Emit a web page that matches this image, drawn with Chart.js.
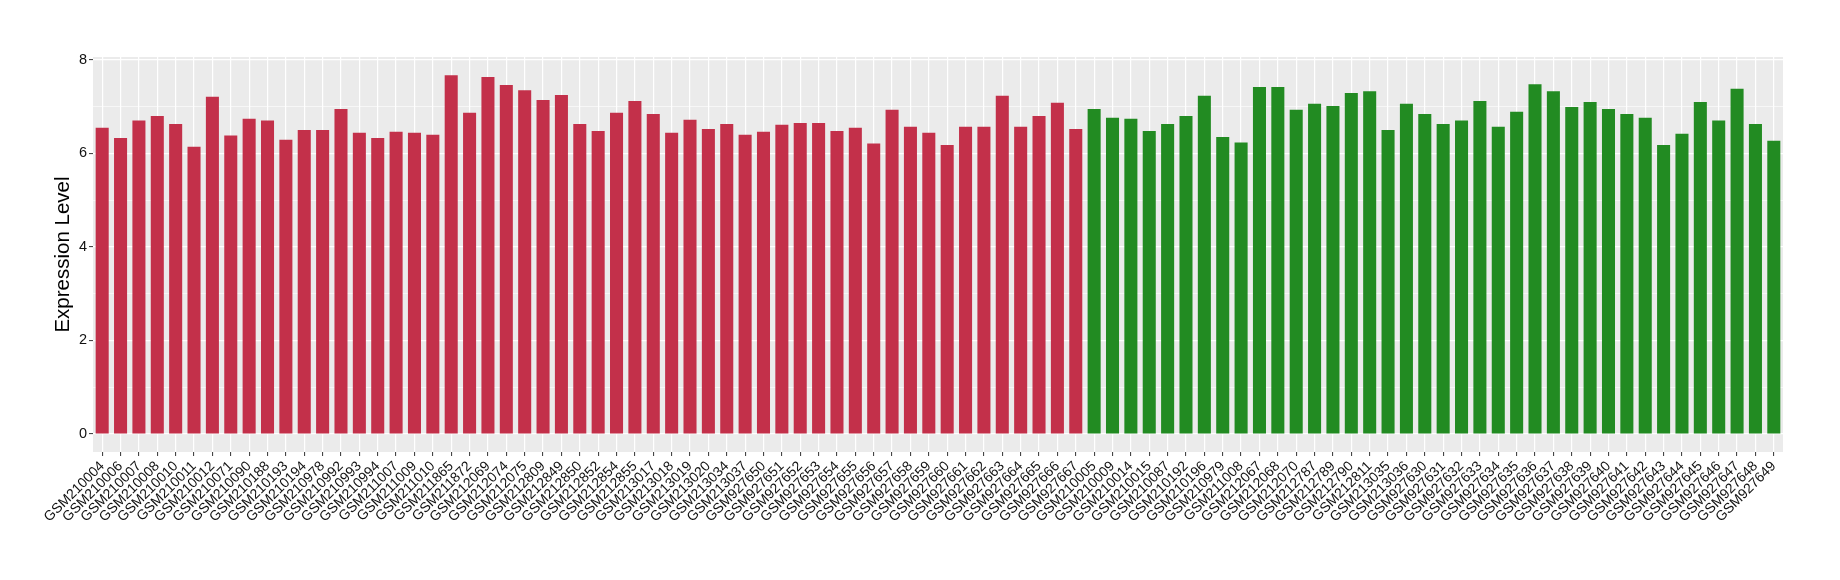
<!DOCTYPE html>
<html>
<head>
<meta charset="utf-8">
<script src="https://cdn.jsdelivr.net/npm/chart.js@4"></script>
<style>
  html, body { margin: 0; padding: 0; background: #ffffff; }
  #wrap { width: 1840px; height: 580px; }
</style>
</head>
<body>
<div id="wrap"><canvas id="chart" width="1840" height="580"></canvas></div>
<script>
// Samples of the first group (red) and their expression levels
const redSamples = [
  "GSM210004", "GSM210006", "GSM210007", "GSM210008", "GSM210010", "GSM210011",
  "GSM210012", "GSM210071", "GSM210090", "GSM210188", "GSM210193", "GSM210194",
  "GSM210978", "GSM210992", "GSM210993", "GSM210994", "GSM211007", "GSM211009",
  "GSM211010", "GSM211865", "GSM211872", "GSM212069", "GSM212074", "GSM212075",
  "GSM212809", "GSM212849", "GSM212850", "GSM212852", "GSM212854", "GSM212855",
  "GSM213017", "GSM213018", "GSM213019", "GSM213020", "GSM213034", "GSM213037",
  "GSM927650", "GSM927651", "GSM927652", "GSM927653", "GSM927654", "GSM927655",
  "GSM927656", "GSM927657", "GSM927658", "GSM927659", "GSM927660", "GSM927661",
  "GSM927662", "GSM927663", "GSM927664", "GSM927665", "GSM927666", "GSM927667"
];
const redValues = [
  6.55, 6.33, 6.70, 6.80, 6.63, 6.14, 7.21, 6.38, 6.74, 6.70, 6.29, 6.50,
  6.50, 6.95, 6.44, 6.33, 6.46, 6.44, 6.40, 7.67, 6.87, 7.63, 7.46, 7.35,
  7.14, 7.25, 6.63, 6.48, 6.87, 7.12, 6.84, 6.44, 6.72, 6.52, 6.63, 6.40,
  6.46, 6.61, 6.65, 6.65, 6.48, 6.55, 6.21, 6.93, 6.57, 6.44, 6.18, 6.57,
  6.57, 7.23, 6.57, 6.80, 7.08, 6.52
];

// Samples of the second group (green)
const greenSamples = [
  "GSM210005", "GSM210009", "GSM210014", "GSM210015", "GSM210087", "GSM210192",
  "GSM210196", "GSM210979", "GSM211008", "GSM212067", "GSM212068", "GSM212070",
  "GSM212787", "GSM212789", "GSM212790", "GSM212811", "GSM213035", "GSM213036",
  "GSM927630", "GSM927631", "GSM927632", "GSM927633", "GSM927634", "GSM927635",
  "GSM927636", "GSM927637", "GSM927638", "GSM927639", "GSM927640", "GSM927641",
  "GSM927642", "GSM927643", "GSM927644", "GSM927645", "GSM927646", "GSM927647",
  "GSM927648", "GSM927649"
];
const greenValues = [
  6.95, 6.76, 6.74, 6.48, 6.63, 6.80, 7.23, 6.35, 6.23, 7.42, 7.42, 6.93,
  7.06, 7.01, 7.29, 7.33, 6.50, 7.06, 6.84, 6.63, 6.70, 7.12, 6.57, 6.89,
  7.48, 7.33, 6.99, 7.10, 6.95, 6.84, 6.76, 6.18, 6.42, 7.10, 6.70, 7.38,
  6.63, 6.27
];

const yTicks = [0, 2, 4, 6, 8];
const yMinor = [1, 3, 5, 7];

const RED = "#c3304a";
const GREEN = "#228b22";

const labels = redSamples.concat(greenSamples);
const values = redValues.concat(greenValues);
const colors = redSamples.map(() => RED).concat(greenSamples.map(() => GREEN));

// grey ggplot-like panel behind the bars
const panelBg = {
  id: "panelBg",
  beforeDraw(chart) {
    const { ctx, chartArea: a } = chart;
    ctx.save();
    ctx.fillStyle = "#ebebeb";
    ctx.fillRect(a.left, a.top, a.right - a.left, a.bottom - a.top);
    ctx.restore();
  }
};

const isMajor = (v) => yTicks.includes(v);

new Chart(document.getElementById("chart"), {
  type: "bar",
  plugins: [panelBg],
  data: {
    labels: labels,
    datasets: [{
      data: values,
      backgroundColor: colors,
      borderWidth: 0,
      categoryPercentage: 1.0,
      barPercentage: 0.71
    }]
  },
  options: {
    responsive: false,
    animation: false,
    layout: { padding: { top: 57, right: 57, left: 40, bottom: 0 } },
    plugins: { legend: { display: false }, tooltip: { enabled: false } },
    scales: {
      x: {
        offset: true,
        grid: {
          offset: false,
          color: "#ffffff",
          lineWidth: 1.2,
          drawTicks: true,
          tickLength: 4,
          tickColor: "#333333",
          tickWidth: 1
        },
        border: { display: false },
        ticks: {
          autoSkip: false,
          minRotation: 45,
          maxRotation: 45,
          padding: 2,
          color: "#111111",
          font: { family: "Liberation Sans", size: 14 }
        },
        afterFit(scale) { scale.height = 128; }
      },
      y: {
        min: -0.385,
        max: 8.06,
        afterBuildTicks(scale) {
          scale.ticks = yTicks.concat(yMinor).sort((a, b) => a - b).map(v => ({ value: v }));
        },
        grid: {
          color: "#ffffff",
          lineWidth: (ctx) => (ctx.tick && isMajor(ctx.tick.value) ? 1.2 : 0.6),
          tickLength: 4,
          tickColor: (ctx) => (ctx.tick && isMajor(ctx.tick.value) ? "#333333" : "rgba(0,0,0,0)"),
          tickWidth: 1
        },
        border: { display: false },
        ticks: {
          padding: 2,
          color: "#111111",
          font: { family: "Liberation Sans", size: 14.5 },
          callback: (v) => (isMajor(v) ? String(v) : "")
        },
        title: {
          display: true,
          text: "Expression Level",
          color: "#000000",
          font: { family: "Liberation Sans", size: 20.5 },
          padding: { top: 11, bottom: 0 }
        },
        afterFit(scale) { scale.width = 53; }
      }
    }
  }
});
</script>
</body>
</html>
